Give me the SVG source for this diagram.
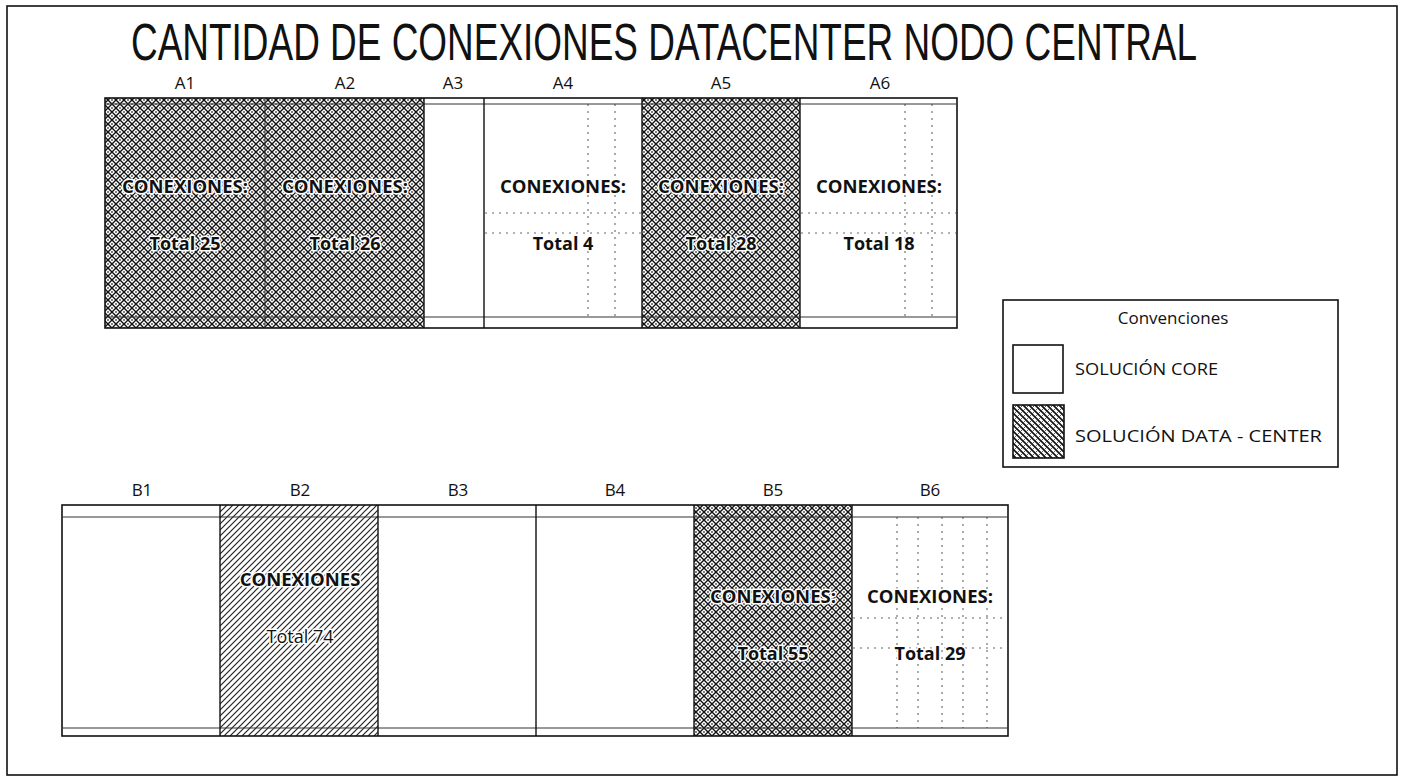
<svg xmlns="http://www.w3.org/2000/svg" width="1403" height="778" viewBox="0 0 1403 778">
<style>
text{font-family:"Open Sans","Liberation Sans",sans-serif;fill:#111}
.title{font-family:"Liberation Sans","Open Sans",sans-serif;font-size:41px}
.hdr{font-size:17px;text-anchor:middle}
.con{font-size:18.5px;font-weight:bold;text-anchor:middle}
.tot{font-size:18px;font-weight:bold;text-anchor:middle}
.reg{font-weight:normal}
.halo{paint-order:stroke;stroke:#fff;stroke-width:3;stroke-linejoin:round}
.leg{font-size:17px}
.frame{fill:none;stroke:#111;stroke-width:1.6}
.box{stroke:#111;stroke-width:1.6}
.line{stroke:#111;stroke-width:1.4;fill:none}
.thin{stroke:#333;stroke-width:1;fill:none}
.dots{stroke:#666;stroke-width:1.1;stroke-dasharray:2 5;fill:none}
</style>
<defs>
<pattern id="xh" width="8" height="8" patternUnits="userSpaceOnUse">
<rect width="8" height="8" fill="#fff"/>
<path d="M-1,-1L9,9M9,-1L-1,9" stroke="#111" stroke-width="1.4"/>
<circle cx="4" cy="0" r="0.9" fill="#444"/>
<circle cx="0" cy="4" r="0.9" fill="#444"/>
<circle cx="8" cy="4" r="0.9" fill="#444"/>
<circle cx="4" cy="8" r="0.9" fill="#444"/>
</pattern>
<pattern id="dg" width="6" height="6" patternUnits="userSpaceOnUse">
<rect width="6" height="6" fill="#fff"/>
<path d="M-1,7L7,-1M-1,1L1,-1M5,7L7,5" stroke="#222" stroke-width="1.2"/>
</pattern>
<pattern id="lg" width="6" height="6" patternUnits="userSpaceOnUse">
<rect width="6" height="6" fill="#fff"/>
<path d="M-1,-1L7,7M-1,5L1,7M5,-1L7,1" stroke="#111" stroke-width="1.6"/>
<path d="M-1,7L7,-1" stroke="#444" stroke-width="0.9"/>
</pattern>
</defs>

<rect id="page-frame" x="7" y="6" width="1390" height="769" class="frame"/>

<g id="title">
<text class="title" transform="translate(131,60) scale(1,1.25)" x="0" y="0" textLength="1066" lengthAdjust="spacingAndGlyphs">CANTIDAD DE CONEXIONES DATACENTER NODO CENTRAL</text>
</g>

<!-- Row A -->
<g id="A1">
<rect x="105" y="98" width="160" height="230" fill="url(#xh)"/>
<text class="hdr" x="185" y="89">A1</text>
<text class="con halo" x="185" y="193">CONEXIONES:</text>
<text class="tot halo" x="185" y="250">Total 25</text>
</g>
<g id="A2">
<rect x="265" y="98" width="159" height="230" fill="url(#xh)"/>
<text class="hdr" x="345" y="89">A2</text>
<text class="con halo" x="345" y="193">CONEXIONES:</text>
<text class="tot halo" x="345" y="250">Total 26</text>
</g>
<g id="A3">
<rect x="424" y="98" width="60" height="230" fill="#fff"/>
<text class="hdr" x="453" y="89">A3</text>
</g>
<g id="A4">
<rect x="484" y="98" width="158" height="230" fill="#fff"/>
<path class="dots" d="M588,104V317M615,104V317M485,213H641M485,233H641"/>
<text class="hdr" x="563" y="89">A4</text>
<text class="con halo" x="563" y="193">CONEXIONES:</text>
<text class="tot halo" x="563" y="250">Total 4</text>
</g>
<g id="A5">
<rect x="642" y="98" width="158" height="230" fill="url(#xh)"/>
<text class="hdr" x="721" y="89">A5</text>
<text class="con halo" x="721" y="193">CONEXIONES:</text>
<text class="tot halo" x="721" y="250">Total 28</text>
</g>
<g id="A6">
<rect x="800" y="98" width="157" height="230" fill="#fff"/>
<path class="dots" d="M905,104V317M932,104V317M801,213H956M801,233H956"/>
<text class="hdr" x="880" y="89">A6</text>
<text class="con halo" x="879" y="193">CONEXIONES:</text>
<text class="tot halo" x="879" y="250">Total 18</text>
</g>
<g id="row-A-grid">
<rect x="105" y="98" width="852" height="230" class="frame"/>
<path class="thin" d="M105,104H957M105,317H957M265,98V328"/>
<path class="line" d="M424,98V328M484,98V328M642,98V328M800,98V328"/>
</g>

<!-- Row B -->
<g id="B1">
<rect x="62" y="505" width="158" height="231" fill="#fff"/>
<text class="hdr" x="142" y="496">B1</text>
</g>
<g id="B2">
<rect x="220" y="505" width="158" height="231" fill="url(#dg)"/>
<text class="hdr" x="300" y="496">B2</text>
<text class="con halo" x="300" y="586">CONEXIONES</text>
<text class="tot reg halo" x="300" y="643">Total 74</text>
</g>
<g id="B3">
<rect x="378" y="505" width="158" height="231" fill="#fff"/>
<text class="hdr" x="458" y="496">B3</text>
</g>
<g id="B4">
<rect x="536" y="505" width="158" height="231" fill="#fff"/>
<text class="hdr" x="615" y="496">B4</text>
</g>
<g id="B5">
<rect x="694" y="505" width="158" height="231" fill="url(#xh)"/>
<text class="hdr" x="773" y="496">B5</text>
<text class="con halo" x="773" y="603">CONEXIONES:</text>
<text class="tot halo" x="773" y="660">Total 55</text>
</g>
<g id="B6">
<rect x="852" y="505" width="156" height="231" fill="#fff"/>
<path class="dots" d="M897,517V728M918,517V728M942,517V728M963,517V728M987,517V728M853,618H1007M853,648H1007"/>
<text class="hdr" x="930" y="496">B6</text>
<text class="con halo" x="930" y="603">CONEXIONES:</text>
<text class="tot halo" x="930" y="660">Total 29</text>
</g>
<g id="row-B-grid">
<rect x="62" y="505" width="946" height="231" class="frame"/>
<path class="thin" d="M62,517H1008M62,728H1008"/>
<path class="line" d="M220,505V736M378,505V736M536,505V736M694,505V736M852,505V736"/>
</g>

<!-- Legend -->
<g id="legend">
<rect x="1003" y="300" width="335" height="167" fill="#fff" class="box"/>
<text class="leg" x="1173" y="324" text-anchor="middle">Convenciones</text>
<rect x="1013" y="345" width="50" height="48" fill="#fff" class="box"/>
<text class="leg" x="1075" y="375" textLength="143" lengthAdjust="spacingAndGlyphs">SOLUCIÓN CORE</text>
<rect x="1013" y="405" width="51" height="53" fill="url(#lg)" class="box"/>
<text class="leg" x="1075" y="442" textLength="247" lengthAdjust="spacingAndGlyphs">SOLUCIÓN DATA - CENTER</text>
</g>

<g id="connectors"/>
</svg>
